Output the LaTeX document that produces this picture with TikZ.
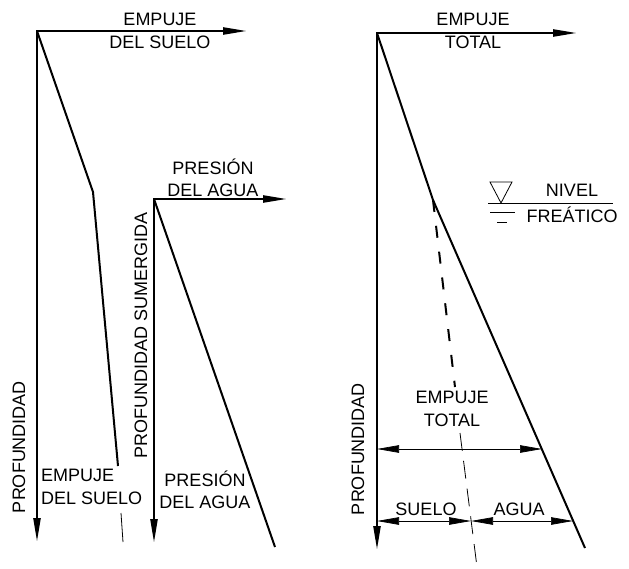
\documentclass[tikz,border=0pt]{standalone}
\usepackage{fontspec}
\setmainfont{Liberation Sans}
\usetikzlibrary{arrows.meta}

\begin{document}
\begin{tikzpicture}[
    x=1pt, y=-1pt,
    >={Triangle[length=24pt, width=7pt]},
    every node/.style={font=\fontsize{18}{22.5}\selectfont, inner sep=0pt, align=center},
    eje/.style={line width=2.4pt},
    recta/.style={line width=2pt},
    cota/.style={line width=0.7pt, {Triangle[length=22pt, width=7.5pt]}-{Triangle[length=22pt, width=7.5pt]}},
    fina/.style={line width=0.8pt}
]

\useasboundingbox (0,0) rectangle (629,569);

% Axes (pressure to the right, depth downwards)
\foreach \n/\x/\y/\xe/\ye in {s/37/31/247/542, w/154/199/287/543, t/377/33/577/550} {
    \coordinate (o\n) at (\x,\y);
    \coordinate (h\n) at (\xe,\y);
    \coordinate (v\n) at (\x,\ye);
    \draw[eje,<->] (h\n) -- (o\n) -- (v\n);
}

% Soil pressure
\coordinate (ks) at (93,192);
\coordinate (es) at (118,466);
\coordinate (fs1) at (121,513);
\coordinate (fs2) at (123,542);
\draw[recta] (os) -- (ks) -- (es);
\draw[fina] (fs1) -- (fs2);

% Water pressure
\coordinate (ew) at (275,547);
\draw[recta] (ow) -- (ew);

% Total pressure
\coordinate (kt) at (433,200);
\coordinate (et) at (585,548);
\coordinate (ds) at (455,387);
\coordinate (ft1) at (460,433);
\coordinate (ft2) at (477,567);
\draw[recta] (ot) -- (kt) -- (et);
\draw[recta, dash pattern=on 12pt off 14pt] (kt) -- (ds);
\draw[fina, dash pattern=on 18pt off 10pt] (ft1) -- (ft2);

% Dimensions
\coordinate (d1a) at (377,449);
\coordinate (d1b) at (542,449);
\coordinate (d2a) at (377,521);
\coordinate (d2m) at (471,521);
\coordinate (d2b) at (573,521);
\draw[cota] (d1a) -- (d1b);
\draw[cota] (d2a) -- (d2m);
\draw[cota] (d2m) -- (d2b);

% Water table symbol
\draw[fina] (488,203) -- (613,203);
\draw[fina] (490,182) -- (512,182) -- (501,203) -- cycle;
\draw[fina] (490,212) -- (515,212);
\draw[fina] (497,222) -- (507,222);

% Labels
\node (lEs) at (160,31) {EMPUJE\\DEL SUELO};
\node (lPa) at (213,178) {PRESIÓN\\DEL AGUA};
\node (lEt) at (473,31) {EMPUJE\\TOTAL};
\node[align=left, anchor=west] (lEsb) at (41,487) {EMPUJE\\DEL SUELO};
\node (lPab) at (205,490) {PRESIÓN\\DEL AGUA};
\node (lEtb) at (452,409) {EMPUJE\\TOTAL};
\node[anchor=base] (lSu) at (426,515) {SUELO};
\node[anchor=base] (lAg) at (519,515) {AGUA};
\node[anchor=base] (lNi) at (572,197) {NIVEL};
\node[anchor=base] (lFr) at (572,223) {FREÁTICO};
\node[rotate=90] (lPr) at (19,447) {PROFUNDIDAD};
\node[rotate=90] (lPs) at (141,335) {PROFUNDIDAD SUMERGIDA};
\node[rotate=90] (lPt) at (358,449) {PROFUNDIDAD};

\end{tikzpicture}
\end{document}
